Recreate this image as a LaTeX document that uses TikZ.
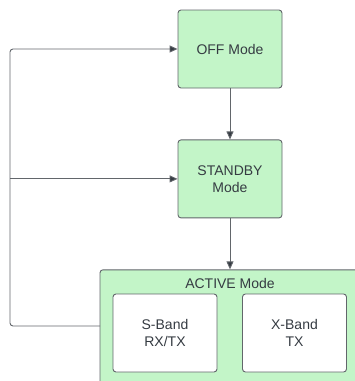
\documentclass[tikz,border=0pt]{standalone}
\usepackage{fontspec}
\setmainfont{Liberation Sans}
\usetikzlibrary{positioning,arrows.meta}
\definecolor{modegreen}{HTML}{C3F5C8}
\definecolor{edgegray}{HTML}{62666B}
\definecolor{textgray}{HTML}{353B42}

\begin{document}
\begin{tikzpicture}[x=1pt,y=-1pt,
    mode/.style={draw=edgegray, fill=modegreen, rounded corners=3pt, line width=0.9pt,
      minimum width=104pt, minimum height=78pt, align=center, text=textgray,
      font=\fontsize{14}{17}\selectfont},
    band/.style={mode, fill=white},
    link/.style={draw=edgegray, line width=0.9pt, -{Triangle[length=8pt,width=7pt,fill=textgray]}}]

	\useasboundingbox (0,0) rectangle (355,381);
	\clip (0,0) rectangle (355,381);

	% mode boxes
	\node[mode] (off) at (230,49) {OFF Mode};
	\node[mode, below=51pt of off] (standby) {STANDBY\\Mode};
	\node[mode, minimum width=260pt, minimum height=130pt, below=51pt of standby] (active) {};
	\node[text=textgray, font=\fontsize{14}{17}\selectfont] (activetitle) at (230,283) {ACTIVE Mode};

	\node[band] (sband) at (165,333) {S-Band\\RX/TX};
	\node[band] (xband) at (294.5,333) {X-Band\\TX};

	% transitions
	\draw[link] (off) -- (standby);
	\draw[link] (standby) -- (active);

	\coordinate (ret) at (100,326);
	\coordinate (rail) at (10,326);
	\draw[link, rounded corners=3pt] (ret) -- (rail) |- (off.west);
	\draw[link] (rail |- standby.west) -- (standby.west);

\end{tikzpicture}
\end{document}
